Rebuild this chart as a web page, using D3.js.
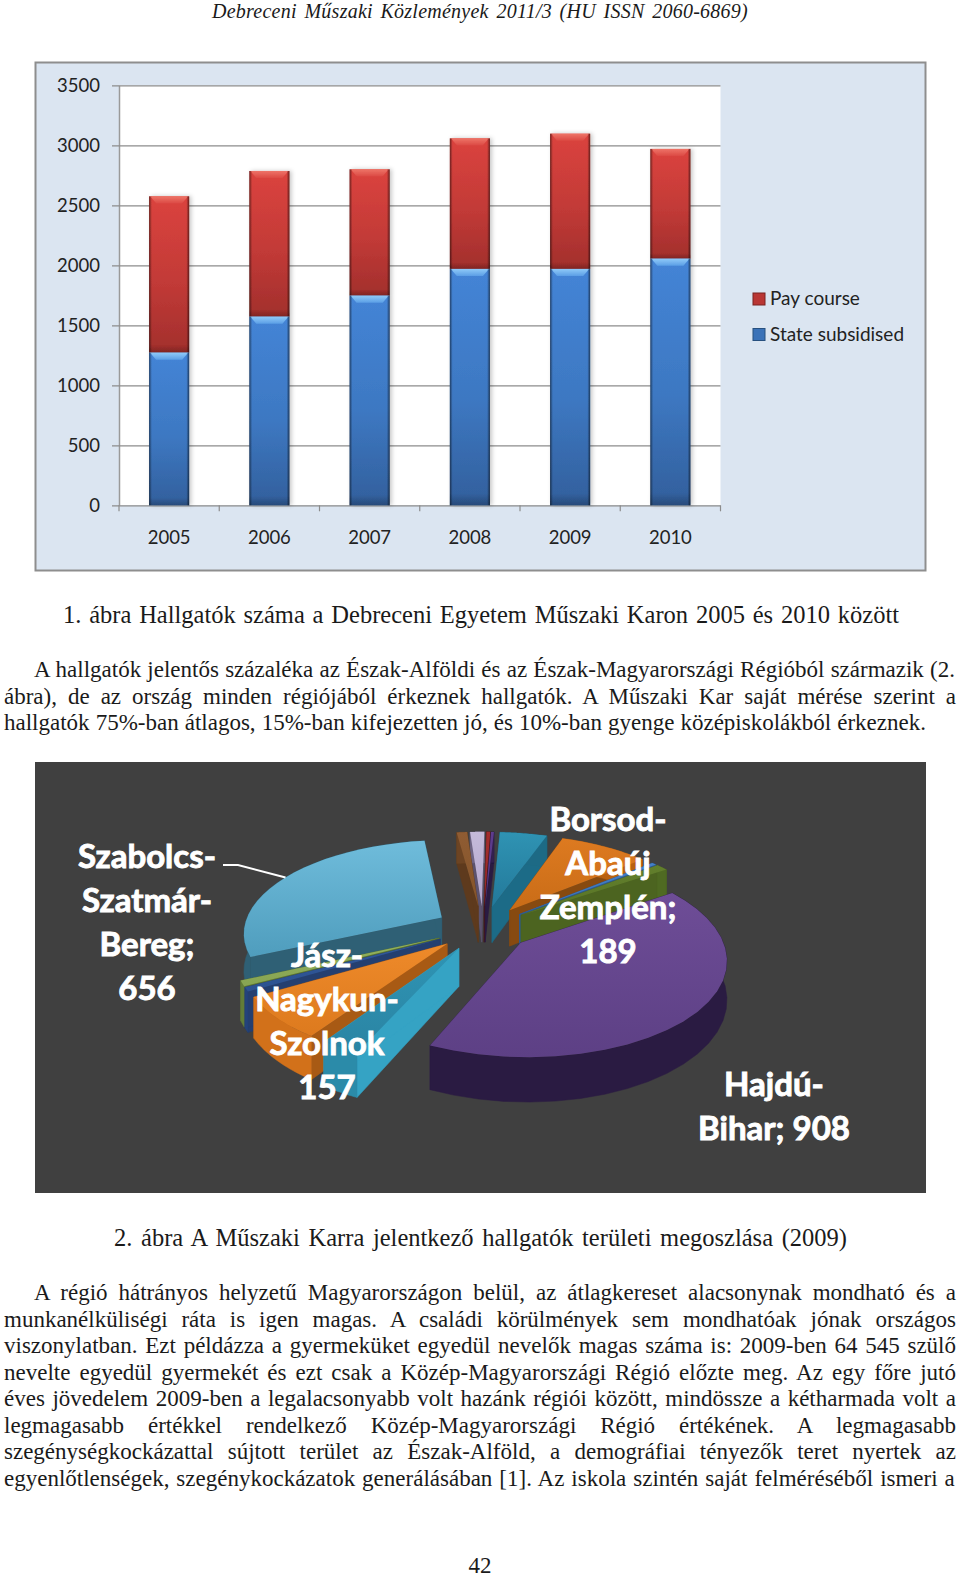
<!DOCTYPE html>
<html>
<head>
<meta charset="utf-8">
<script src="https://d3js.org/d3.v7.min.js"></script>
<style>
  html, body { margin: 0; padding: 0; background: #fff; }
  svg { display: block; }
  .page { font-family: "Liberation Serif", serif; fill: #1a1a1a; white-space: pre; }
</style>
</head>
<body>
<svg id="page" width="960" height="1577"></svg>
<script>
// bar chart values
var years = ['2005', '2006', '2007', '2008', '2009', '2010'];
var stateSubsidised = [1272, 1572, 1747, 1970, 1970, 2055];
var payCourse = [1303, 1214, 1053, 1088, 1127, 915];
var yTicks = [0, 500, 1000, 1500, 2000, 2500, 3000, 3500];
var legendLabels = ['Pay course', 'State subsidised'];

// pie values, clockwise; only four of them are labelled, the others are estimated
var pieValues = [908, 60, 157, 15, 20, 656, 22, 30, 8, 6, 100, 189, 10, 25];

// top face start, top face end, outer wall, cut face
var pieColors = [
  ['#6e4d97', '#5d4085', '#2a1b42', '#33214f'],
  ['#2f94b4', '#2a84a3', '#2b8ba9', '#35a3c4'],
  ['#ee8a2a', '#dd7a1e', '#d2711a', '#a85a14'],
  ['#31589c', '#2c5290', '#24437a', '#243f70'],
  ['#93b25e', '#87a552', '#627d38', '#5a7332'],
  ['#6fbcdb', '#4f9dbd', '#2f6075', '#2f6075'],
  ['#8f5c33', '#855429', '#6d4423', '#5e3a1d'],
  ['#c5bada', '#b3a6cc', '#6f6484', '#5c526e'],
  ['#a32d2d', '#9a2828', '#5e1a1a', '#4c1515'],
  ['#5d3c8e', '#563683', '#33214f', '#2a1b42'],
  ['#2f93b3', '#23799a', '#1d6a85', '#1c6b87'],
  ['#dd7a20', '#c96c17', '#b9610f', '#874a10'],
  ['#4380c8', '#3a72b6', '#2c5a90', '#2c5a90'],
  ['#627f2c', '#587426', '#4f6a22', '#4c6420']
];

var labelBlocks = [
  { lines: ['Szabolcs-', 'Szatmár-', 'Bereg;', '656'], x: 147, y: 868, dy: 44 },
  { lines: ['Jász-', 'Nagykun-', 'Szolnok', '157'], x: 327, y: 967, dy: 44 },
  { lines: ['Borsod-', 'Abaúj', 'Zemplén;', '189'], x: 608, y: 831, dy: 44 },
  { lines: ['Hajdú-', 'Bihar; 908'], x: 774, y: 1096, dy: 44 }
];

var svg = d3.select('#page');
var defs = svg.append('defs');

function addGradient(id, x2, y2, stops) {
  var g = defs.append('linearGradient').attr('id', id)
    .attr('x1', 0).attr('y1', 0).attr('x2', x2).attr('y2', y2);
  stops.forEach(function(s) {
    g.append('stop').attr('offset', s[0]).attr('stop-color', s[1]).attr('stop-opacity', s[2] === undefined ? 1 : s[2]);
  });
}

// --- page text ---
var textG = svg.append('g').attr('class', 'page');

// one line of text between x0 and x1, stretched through the word gaps
function fitLine(str, x0, x1, y, size, italic) {
  var t = textG.append('text')
    .attr('x', x0).attr('y', y)
    .style('font-size', size + 'px')
    .style('font-style', italic ? 'italic' : 'normal')
    .style('letter-spacing', italic ? '0.25px' : null)
    .text(str);
  var gaps = str.split(' ').length - 1;
  var len = t.node().getComputedTextLength();
  t.style('word-spacing', ((x1 - x0 - len) / gaps) + 'px');
}

var bodySize = 23, captionSize = 24.5;
fitLine('Debreceni Műszaki Közlemények 2011/3 (HU ISSN 2060-6869)', 212, 748, 18, 20, true);
fitLine('1. ábra Hallgatók száma a Debreceni Egyetem Műszaki Karon 2005 és 2010 között', 63, 899, 623, captionSize);
fitLine('A hallgatók jelentős százaléka az Észak-Alföldi és az Észak-Magyarországi Régióból származik (2.', 34, 955, 677, bodySize);
fitLine('ábra), de az ország minden régiójából érkeznek hallgatók. A Műszaki Kar saját mérése szerint a', 4, 956, 703.5, bodySize);
fitLine('hallgatók 75%-ban átlagos, 15%-ban kifejezetten jó, és 10%-ban gyenge középiskolákból érkeznek.', 4, 926, 730, bodySize);
fitLine('2. ábra A Műszaki Karra jelentkező hallgatók területi megoszlása (2009)', 114, 847, 1246, captionSize);

var para = [
  'A régió hátrányos helyzetű Magyarországon belül, az átlagkereset alacsonynak mondható és a',
  'munkanélküliségi ráta is igen magas. A családi körülmények sem mondhatóak jónak országos',
  'viszonylatban. Ezt példázza a gyermeküket egyedül nevelők magas száma is: 2009-ben 64 545 szülő',
  'nevelte egyedül gyermekét és ezt csak a Közép-Magyarországi Régió előzte meg. Az egy főre jutó',
  'éves jövedelem 2009-ben a legalacsonyabb volt hazánk régiói között, mindössze a kétharmada volt a',
  'legmagasabb értékkel rendelkező Közép-Magyarországi Régió értékének. A legmagasabb',
  'szegénységkockázattal sújtott terület az Észak-Alföld, a demográfiai tényezők teret nyertek az',
  'egyenlőtlenségek, szegénykockázatok generálásában [1].  Az iskola szintén saját felméréséből ismeri a'
];
para.forEach(function(line, i) {
  fitLine(line, i === 0 ? 34 : 4, 956, 1300 + i * 26.55, bodySize);
});
textG.append('text').attr('x', 480).attr('y', 1573).attr('text-anchor', 'middle')
  .style('font-size', bodySize + 'px').text('42');

// --- bar chart ---
var chart = svg.append('g').style('font-family', 'Lato, sans-serif');
chart.append('rect').attr('x', 35.5).attr('y', 62.5).attr('width', 890).attr('height', 508)
  .attr('fill', '#dbe5f1').attr('stroke', '#8e8e8e').attr('stroke-width', 2);

var x = d3.scaleBand().domain(years).range([119, 720.5]).paddingInner(0.6).paddingOuter(0.3);
var y = d3.scaleLinear().domain([0, 3500]).range([505.3, 85.3]);

chart.append('rect').attr('x', 119).attr('y', y(3500))
  .attr('width', 601.5).attr('height', y(0) - y(3500)).attr('fill', '#fff');

var yAxis = chart.append('g').attr('transform', 'translate(119,0)')
  .call(d3.axisLeft(y).tickValues(yTicks).tickSize(-601.5).tickSizeOuter(0).tickPadding(19).tickFormat(d3.format('d')));
yAxis.select('.domain').attr('stroke', '#9a9a9a').attr('stroke-width', 1.5);
yAxis.selectAll('.tick line').attr('x1', -7).attr('stroke', '#8c8c8c').attr('stroke-width', 1.2);
yAxis.selectAll('.tick text').attr('fill', '#222').style('font-size', '18.5px').style('font-family', 'Lato, sans-serif');

var xAxis = chart.append('g').attr('transform', 'translate(0,' + y(0) + ')')
  .call(d3.axisBottom(x).tickSize(0).tickPadding(26));
xAxis.select('.domain').remove();
xAxis.selectAll('.tick text').attr('fill', '#222').style('font-size', '18.5px').style('font-family', 'Lato, sans-serif');

// tick marks sit on the category boundaries, not on the centres
chart.append('g').selectAll('line')
  .data(d3.range(years.length + 1))
  .join('line')
  .attr('x1', function(d) { return 119 + d * x.step(); })
  .attr('x2', function(d) { return 119 + d * x.step(); })
  .attr('y1', y(0)).attr('y2', y(0) + 6)
  .attr('stroke', '#8c8c8c').attr('stroke-width', 1.2);

addGradient('blueFill', 0, 1, [[0, '#4484d6'], [0.55, '#3d78c2'], [1, '#325f9c']]);
addGradient('redFill', 0, 1, [[0, '#db433e'], [0.55, '#c23a37'], [1, '#a22f2c']]);
addGradient('blueTop', 0, 1, [[0, '#8fcaf8'], [1, '#5c9fe6']]);
addGradient('redTop', 0, 1, [[0, '#ee7468'], [1, '#dc4a44']]);
addGradient('barEdge', 1, 0, [[0, '#000', 0.5], [0.07, '#000', 0], [0.93, '#000', 0], [1, '#000', 0.55]]);
addGradient('barBase', 0, 1, [[0, '#000', 0], [0.95, '#000', 0], [1, '#000', 0.22]]);
defs.append('filter').attr('id', 'barShadow').attr('x', '-20%').attr('width', '140%')
  .append('feDropShadow').attr('dx', 2).attr('dy', 0).attr('stdDeviation', 2)
  .attr('flood-color', '#000').attr('flood-opacity', 0.22);

function bevelSegment(g, left, topY, w, h, fill, cap) {
  g.append('rect').attr('x', left).attr('y', topY).attr('width', w).attr('height', h).attr('fill', fill);
  g.append('path')
    .attr('d', d3.line()([[left + 1, topY], [left + w - 1, topY], [left + w - 7, topY + 7], [left + 7, topY + 7]]) + 'Z')
    .attr('fill', cap);
  g.append('rect').attr('x', left).attr('y', topY).attr('width', w).attr('height', h).attr('fill', 'url(#barEdge)');
  g.append('rect').attr('x', left).attr('y', topY).attr('width', w).attr('height', h).attr('fill', 'url(#barBase)');
}

var barGroups = chart.append('g').selectAll('g')
  .data(years)
  .join('g')
  .attr('filter', 'url(#barShadow)');

barGroups.each(function(year, i) {
  var g = d3.select(this);
  var total = stateSubsidised[i] + payCourse[i];
  bevelSegment(g, x(year), y(total), x.bandwidth(), y(stateSubsidised[i]) - y(total), 'url(#redFill)', 'url(#redTop)');
  bevelSegment(g, x(year), y(stateSubsidised[i]), x.bandwidth(), y(0) - y(stateSubsidised[i]), 'url(#blueFill)', 'url(#blueTop)');
});

// legend
var legend = chart.append('g').selectAll('g')
  .data(legendLabels)
  .join('g')
  .attr('transform', function(d, i) { return 'translate(753,' + (293 + i * 35.5) + ')'; });
legend.append('rect').attr('width', 12).attr('height', 12)
  .attr('fill', function(d, i) { return i === 0 ? '#b93634' : '#3a72b8'; })
  .attr('stroke', function(d, i) { return i === 0 ? '#7a2220' : '#27507f'; });
legend.append('text').attr('x', 17).attr('y', 12)
  .attr('fill', '#222').style('font-size', '19px')
  .text(function(d) { return d; });

// --- exploded pie ---
var pieG = svg.append('g');
pieG.append('rect').attr('x', 35).attr('y', 762).attr('width', 891).attr('height', 431).attr('fill', '#404040');

var cx = 483, cy = 928;
var radius = 198, burst = 48, depth = 37;
var persp = 1300, squash = 0.465;

function project(px, py, down) {
  var g = persp / (persp + py);
  return [cx + px * g, cy - py * squash * g + (down ? depth * g : 0)];
}

var slices = d3.pie().sort(null)
  .startAngle(56 * Math.PI / 180)
  .endAngle((56 + 360) * Math.PI / 180)(pieValues);

slices.forEach(function(d) {
  var mid = (d.startAngle + d.endAngle) / 2;
  d.ox = burst * Math.sin(mid);
  d.oy = burst * Math.cos(mid);
  d.far = Math.cos(mid);
  d.rim = d3.range(0, 25).map(function(j) {
    var a = d.startAngle + (d.endAngle - d.startAngle) * j / 24;
    return [d.ox + radius * Math.sin(a), d.oy + radius * Math.cos(a)];
  });
});

var poly = d3.line().curve(d3.curveLinear);

function upper(p) { return project(p[0], p[1], false); }
function lower(p) { return project(p[0], p[1], true); }

function drawSlice(d) {
  var i = d.index;
  var c = pieColors[i];
  var apex = [d.ox, d.oy];
  var first = d.rim[0], last = d.rim[d.rim.length - 1];
  addGradient('sliceTop' + i, 0, 1, [[0, c[0]], [1, c[1]]]);

  [first, last].forEach(function(edge) {
    pieG.append('path')
      .attr('d', poly([upper(apex), upper(edge), lower(edge), lower(apex)]) + 'Z')
      .attr('fill', c[3]).attr('stroke', c[3]).attr('stroke-width', 0.5);
  });
  pieG.append('path')
    .attr('d', poly(d.rim.map(upper).concat(d.rim.slice().reverse().map(lower))) + 'Z')
    .attr('fill', c[2]).attr('stroke', c[2]).attr('stroke-width', 0.5);
  pieG.append('path')
    .attr('d', poly([upper(apex)].concat(d.rim.map(upper))) + 'Z')
    .attr('fill', 'url(#sliceTop' + i + ')');
}

// far slices first so the near ones cover them
slices.slice().sort(function(a, b) { return b.far - a.far; }).forEach(drawSlice);

// leader from the Szabolcs label to its slice
var szabolcs = slices[5];
var leaderEnd = upper(szabolcs.rim[12]);
pieG.append('path')
  .attr('d', poly([[223, 865], [238, 865], leaderEnd]))
  .attr('fill', 'none').attr('stroke', '#fff').attr('stroke-width', 2);

labelBlocks.forEach(function(block) {
  pieG.append('g').selectAll('text')
    .data(block.lines)
    .join('text')
    .attr('x', block.x)
    .attr('y', function(d, i) { return block.y + i * block.dy; })
    .attr('text-anchor', 'middle')
    .attr('fill', '#fff')
    .style('font-family', 'Lato, sans-serif')
    .style('font-weight', 700)
    .style('font-size', '33px')
    .style('stroke', '#fff')
    .style('stroke-width', '0.9px')
    .text(function(d) { return d; });
});
</script>
</body>
</html>
